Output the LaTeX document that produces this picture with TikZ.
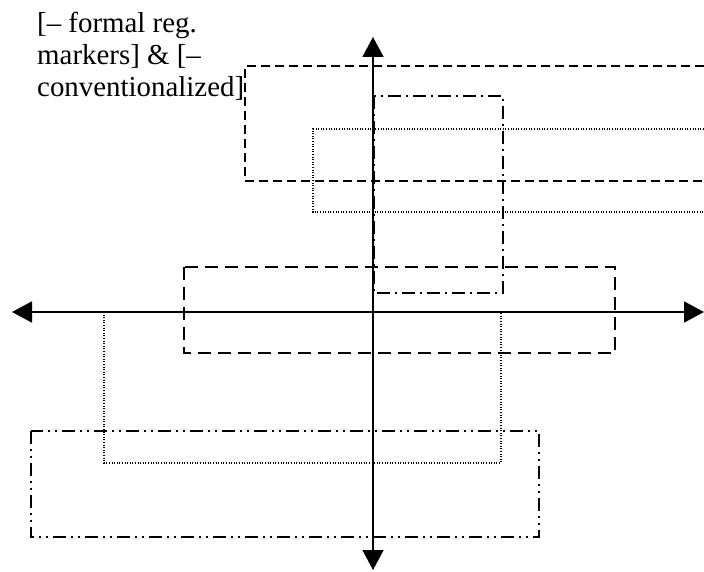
\documentclass[tikz,border=0pt]{standalone}
\usepackage{fontspec}
\setmainfont{Liberation Serif}
\usetikzlibrary{arrows.meta}
\begin{document}
\begin{tikzpicture}[x=1bp,y=-1bp,
  box/.style={line width=1.3bp,black},
  dashA/.style={box,dash pattern=on 9bp off 5bp},
  dashB/.style={box,dash pattern=on 13bp off 7bp},
  dashdotA/.style={box,dash pattern=on 13bp off 5bp on 2bp off 5bp},
  dashdotdotA/.style={box,dash pattern=on 13bp off 5bp on 2bp off 5bp on 2bp off 5bp},
  dotA/.style={line width=1.3bp,black,dash pattern=on 1bp off 1.6bp},
  axis/.style={line width=1.6bp,black,{Triangle[length=20bp,width=21bp]}-{Triangle[length=20bp,width=21bp]}},
  lab/.style={anchor=base west,inner sep=0pt,font=\fontsize{29}{32}\selectfont}]
\useasboundingbox (0,0) rectangle (704,572);
% label
\node[lab] (t1) at (37,33) {[– formal reg.};
\node[lab] (t2) at (37,65) {markers] \& [–};
\node[lab] (t3) at (37,97) {conventionalized]};
% top dashed (open to the right)
\draw[dashA] (704,66) -- (245,66) -- (245,181) -- (704,181);
% top dash-dot
\draw[dashdotA] (374,96) rectangle (503,293);
% top dotted (open to right)
\draw[dotA] (704,129) -- (313,129) -- (313,212) -- (704,212);
% middle dashed
\draw[dashB] (184,267) rectangle (615,353);
% lower dotted
\draw[dotA] (104,312) rectangle (501,463);
% lower dash-dot-dot
\draw[dashdotdotA] (31,431) rectangle (539,537);
% axes
\coordinate (L) at (12,312);
\coordinate (R) at (704,312);
\coordinate (T) at (373,37);
\coordinate (B) at (373,570);
\draw[axis] (L) -- (R);
\draw[axis] (T) -- (B);
\end{tikzpicture}
\end{document}
